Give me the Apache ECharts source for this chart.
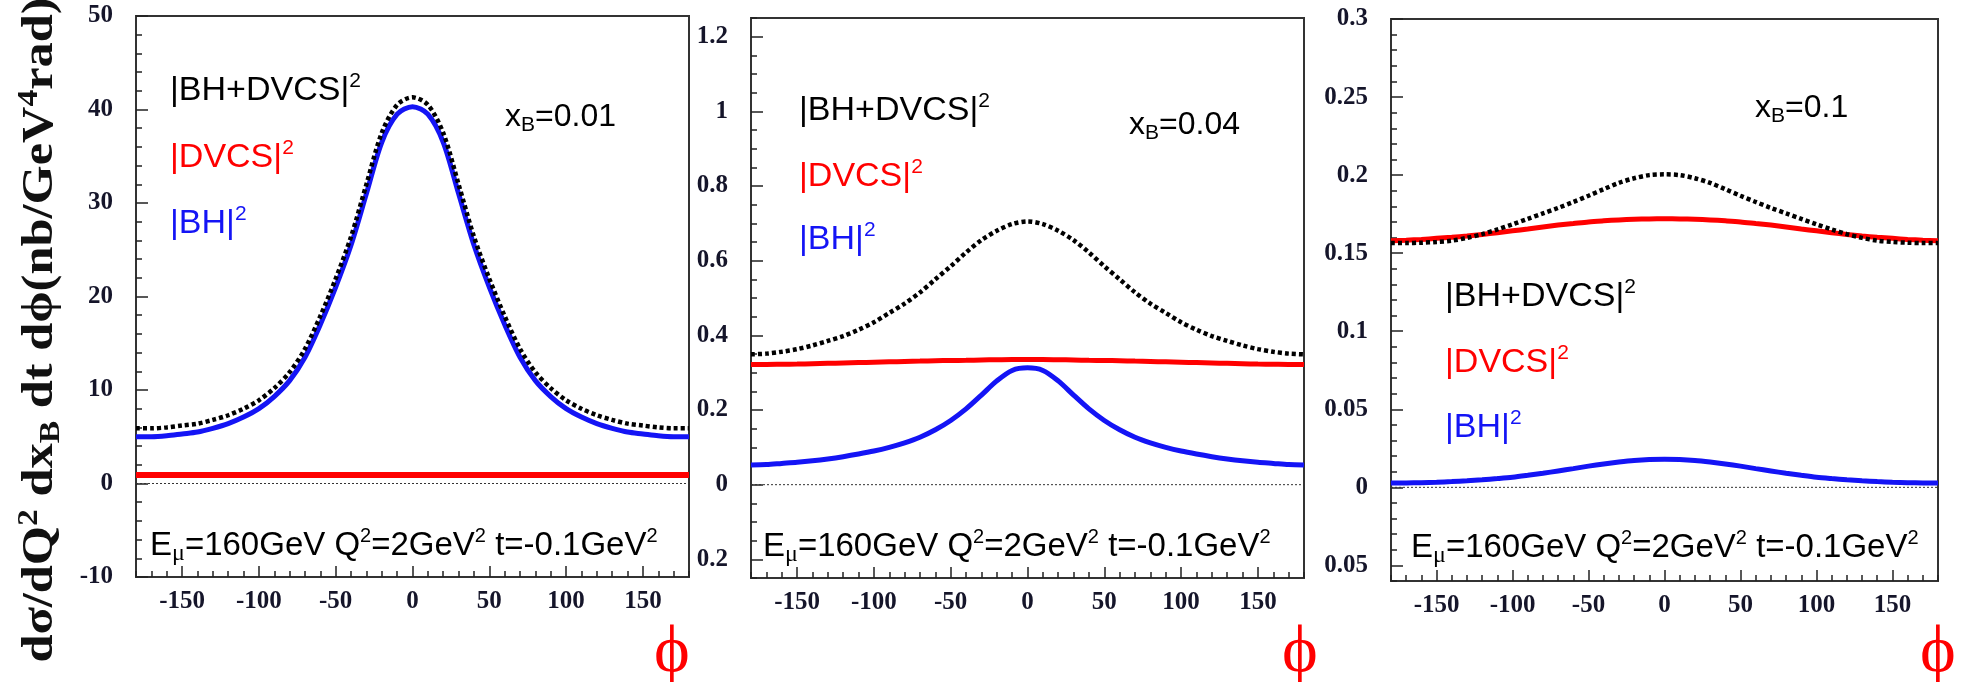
<!DOCTYPE html>
<html><head><meta charset="utf-8">
<script src="https://cdn.jsdelivr.net/npm/echarts@6/dist/echarts.min.js"></script>
<style>html,body{margin:0;padding:0;background:#fff}#c{width:1967px;height:682px}</style>
</head><body><div id="c"></div>
<script>
// ---------- data ----------
const phi = [-180,-170,-160,-150,-140,-130,-120,-110,-100,-90,-80,-70,-60,-50,-40,-30,-20,-10,0,10,20,30,40,50,60,70,80,90,100,110,120,130,140,150,160,170,180];

// panel 1: xB = 0.01
const p1_sum  = [5.9,5.9,6.0,6.2,6.4,6.8,7.3,8.0,8.9,10.2,11.9,14.4,17.9,21.9,26.4,32.0,37.5,40.5,41.3,40.5,37.5,32.0,26.4,21.9,17.9,14.4,11.9,10.2,8.9,8.0,7.3,6.8,6.4,6.2,6.0,5.9,5.9];
const p1_dvcs = [0.9,0.9,0.9,0.9,0.9,0.9,0.9,0.9,0.9,0.9,0.9,0.9,0.9,0.9,0.9,0.9,0.9,0.9,0.9,0.9,0.9,0.9,0.9,0.9,0.9,0.9,0.9,0.9,0.9,0.9,0.9,0.9,0.9,0.9,0.9,0.9,0.9];
const p1_bh   = [5.0,5.0,5.1,5.3,5.5,5.9,6.4,7.1,8.0,9.3,11.0,13.5,17.0,21.0,25.5,31.0,36.5,39.5,40.3,39.5,36.5,31.0,25.5,21.0,17.0,13.5,11.0,9.3,8.0,7.1,6.4,5.9,5.5,5.3,5.1,5.0,5.0];

// panel 2: xB = 0.04
const p2_sum  = [0.349,0.351,0.356,0.363,0.373,0.385,0.398,0.415,0.435,0.46,0.485,0.515,0.55,0.585,0.622,0.655,0.68,0.698,0.705,0.698,0.68,0.655,0.622,0.585,0.55,0.515,0.485,0.46,0.435,0.415,0.398,0.385,0.373,0.363,0.356,0.351,0.349];
const p2_dvcs = [0.322,0.322,0.3225,0.323,0.324,0.325,0.326,0.327,0.328,0.329,0.33,0.331,0.332,0.3325,0.333,0.334,0.3345,0.335,0.335,0.335,0.3345,0.334,0.333,0.3325,0.332,0.331,0.33,0.329,0.328,0.327,0.326,0.325,0.324,0.323,0.3225,0.322,0.322];
const p2_bh   = [0.053,0.054,0.057,0.06,0.064,0.069,0.075,0.082,0.09,0.1,0.112,0.127,0.147,0.172,0.203,0.24,0.278,0.306,0.313,0.306,0.278,0.24,0.203,0.172,0.147,0.127,0.112,0.1,0.09,0.082,0.075,0.069,0.064,0.06,0.057,0.054,0.053];

// panel 3: xB = 0.1
const p3_sum  = [0.1565,0.1565,0.1567,0.1572,0.158,0.1598,0.1622,0.1652,0.1685,0.172,0.1755,0.179,0.1828,0.1868,0.191,0.195,0.198,0.2,0.2005,0.2,0.198,0.195,0.191,0.1868,0.1828,0.179,0.1755,0.172,0.1685,0.1652,0.1622,0.1598,0.158,0.1572,0.1567,0.1565,0.1565];
const p3_dvcs = [0.158,0.1583,0.1588,0.1595,0.1602,0.161,0.162,0.1631,0.1643,0.1655,0.1668,0.168,0.169,0.17,0.1707,0.1713,0.1717,0.1719,0.172,0.1719,0.1717,0.1713,0.1707,0.17,0.169,0.168,0.1668,0.1655,0.1643,0.1631,0.162,0.161,0.1602,0.1595,0.1588,0.1583,0.158];
const p3_bh   = [0.0027,0.0028,0.003,0.0033,0.0037,0.0042,0.0048,0.0056,0.0065,0.0077,0.009,0.0105,0.012,0.0136,0.015,0.0162,0.0172,0.0178,0.018,0.0178,0.0172,0.0162,0.015,0.0136,0.012,0.0105,0.009,0.0077,0.0065,0.0056,0.0048,0.0042,0.0037,0.0033,0.003,0.0028,0.0027];

// ticks and labels
const xTicks = [-150,-100,-50,0,50,100,150];
const xLabels = ['-150','-100','-50','0','50','100','150'];
const p1_yTicks = [-10,0,10,20,30,40,50];
const p1_yLabels = ['-10','0','10','20','30','40','50'];
const p2_yTicks = [-0.2,0,0.2,0.4,0.6,0.8,1,1.2];
const p2_yLabels = ['0.2','0','0.2','0.4','0.6','0.8','1','1.2'];
const p3_yTicks = [-0.05,0,0.05,0.1,0.15,0.2,0.25,0.3];
const p3_yLabels = ['0.05','0','0.05','0.1','0.15','0.2','0.25','0.3'];
const yRanges = [[-10,50],[-0.25,1.25],[-0.06,0.3]];
const minorSteps = [2,0.05,0.01];
const xMinorStep = 10;

const legendNames = ['|BH+DVCS|','|DVCS|','|BH|'];
const xbTexts = ['=0.01','=0.04','=0.1'];

// ---------- layout ----------
const grids = [
  {left:136, top:16, width:553, height:561},
  {left:751, top:18, width:553, height:560},
  {left:1391, top:19, width:547, height:562}
];
const legendPos = [[170,[91,158,224]],[799,[111,177,240]],[1445,[297,363,428]]];
const xbPos = [[505,117],[1129,125],[1755,108]];
const ePos = [[150,546],[763,547],[1411,548]];
const phiPos = [[672,654],[1300,654],[1938,654]];

function minorList(min,max,step,majors){
  const out=[]; const n=Math.round((max-min)/step);
  for(let k=0;k<=n;k++){const v=+(min+k*step).toFixed(6); if(!majors.some(m=>Math.abs(m-v)<1e-9)) out.push(v);}
  return out;
}
const xMinor = minorList(-180,180,xMinorStep,xTicks);
const yTicksAll=[p1_yTicks,p2_yTicks,p3_yTicks];
const yLabelsAll=[p1_yLabels,p2_yLabels,p3_yLabels];
const seriesData=[[p1_sum,p1_dvcs,p1_bh],[p2_sum,p2_dvcs,p2_bh],[p3_sum,p3_dvcs,p3_bh]];

const labelFont = {fontFamily:'Liberation Serif', fontWeight:'bold', fontSize:25, color:'#15152a'};
const xAxes=[], yAxes=[], series=[], graphic=[];
const pair = arr => phi.map((p,k)=>[p,arr[k]]);
const fmt = (ticks,labels) => v => { const i=ticks.findIndex(t=>Math.abs(t-v)<1e-9); return i>=0?labels[i]:''; };

for(let i=0;i<3;i++){
  xAxes.push({gridIndex:i,type:'value',min:-180,max:180,position:'bottom',
    axisLine:{show:true,onZero:false,lineStyle:{color:'#333',width:2}},
    axisTick:{show:true,inside:true,length:11,customValues:xTicks,lineStyle:{color:'#222',width:1.5}},
    axisLabel:Object.assign({show:true,margin:12,customValues:xTicks,formatter:fmt(xTicks,xLabels)},labelFont),
    splitLine:{show:false}});
  xAxes.push({gridIndex:i,type:'value',min:-180,max:180,position:'bottom',
    axisLine:{show:false,onZero:false},
    axisTick:{show:true,inside:true,length:6,customValues:xMinor,lineStyle:{color:'#222',width:1.5}},
    axisLabel:{show:false},splitLine:{show:false}});
  const [ymin,ymax]=yRanges[i];
  yAxes.push({gridIndex:i,type:'value',min:ymin,max:ymax,position:'left',
    axisLine:{show:true,onZero:false,lineStyle:{color:'#333',width:2}},
    axisTick:{show:true,inside:true,length:12,customValues:yTicksAll[i],lineStyle:{color:'#222',width:1.5}},
    axisLabel:Object.assign({show:true,margin:23,customValues:yTicksAll[i],formatter:fmt(yTicksAll[i],yLabelsAll[i])},labelFont),
    splitLine:{show:false}});
  yAxes.push({gridIndex:i,type:'value',min:ymin,max:ymax,position:'left',
    axisLine:{show:false,onZero:false},
    axisTick:{show:true,inside:true,length:6,customValues:minorList(ymin,ymax,minorSteps[i],yTicksAll[i]),lineStyle:{color:'#222',width:1.5}},
    axisLabel:{show:false},splitLine:{show:false}});

  const base={type:'line',xAxisIndex:2*i,yAxisIndex:2*i,symbol:'none',smooth:0.3,silent:true,z:3};
  series.push(Object.assign({},base,{name:'zero'+i,smooth:false,data:[[-180,0],[180,0]],lineStyle:{color:'#333',width:1,type:[2,2]},z:2}));
  series.push(Object.assign({},base,{name:'BH'+i,data:pair(seriesData[i][2]),lineStyle:{color:'#1414f5',width:5}}));
  series.push(Object.assign({},base,{name:'DVCS'+i,data:pair(seriesData[i][1]),lineStyle:{color:'#ff0000',width:i===0?6:5}}));
  series.push(Object.assign({},base,{name:'SUM'+i,data:pair(seriesData[i][0]),lineStyle:{color:'#000',width:4.5,type:[4,3],cap:'butt'},z:4}));

  // legend texts
  const colors=['#000','#ff0000','#1414f5'];
  for(let k=0;k<3;k++){
    graphic.push({type:'text',x:legendPos[i][0],y:legendPos[i][1][k],z:10,silent:true,
      style:{text:'{m|'+legendNames[k]+'}{s|2}',align:'left',verticalAlign:'middle',textAlign:'left',textVerticalAlign:'middle',
        rich:{m:{fontSize:34,fontFamily:'Liberation Sans',fill:colors[k],lineHeight:40},
              s:{fontSize:21,fontFamily:'Liberation Sans',fill:colors[k],lineHeight:26,verticalAlign:'top'}}}});
  }
  // xB
  graphic.push({type:'text',x:xbPos[i][0],y:xbPos[i][1],z:10,silent:true,
    style:{text:'{m|x}{b|B}{m|'+xbTexts[i]+'}',align:'left',verticalAlign:'middle',textAlign:'left',textVerticalAlign:'middle',
      rich:{m:{fontSize:32,fontFamily:'Liberation Sans',fill:'#000',lineHeight:38},
            b:{fontSize:21,fontFamily:'Liberation Sans',fill:'#000',lineHeight:19,verticalAlign:'bottom'}}}});
  // beam text
  graphic.push({type:'text',x:ePos[i][0],y:ePos[i][1],z:10,silent:true,
    style:{text:'{m|E}{u|μ}{m|=160GeV Q}{p|2}{m|=2GeV}{p|2}{m| t=-0.1GeV}{p|2}',align:'left',verticalAlign:'middle',textAlign:'left',textVerticalAlign:'middle',
      rich:{m:{fontSize:33,fontFamily:'Liberation Sans',fill:'#000',lineHeight:40},
            u:{fontSize:24,fontFamily:'Liberation Serif',fill:'#000',lineHeight:22,verticalAlign:'bottom'},
            p:{fontSize:20,fontFamily:'Liberation Sans',fill:'#000',lineHeight:26,verticalAlign:'top'}}}});
  // phi symbol
  graphic.push({type:'text',x:phiPos[i][0],y:phiPos[i][1],z:10,silent:true,
    style:{text:'ϕ',fontSize:68,fontFamily:'Liberation Serif',fill:'#ff0000',align:'center',verticalAlign:'middle',textAlign:'center',textVerticalAlign:'middle'}});
}

// y axis title
graphic.push({type:'text',x:40,y:330,rotation:Math.PI/2,scaleX:1.12,z:10,silent:true,
  style:{text:'{a|dσ/dQ}{p|2}{a| dx}{b|B}{a| dt dϕ(nb/GeV}{p|4}{a|rad)}',align:'center',verticalAlign:'middle',textAlign:'center',textVerticalAlign:'middle',
    rich:{a:{fontSize:45,fontFamily:'Liberation Serif',fontWeight:'bold',fill:'#111',lineHeight:52},
          p:{fontSize:30,fontFamily:'Liberation Serif',fontWeight:'bold',fill:'#111',lineHeight:30,verticalAlign:'top'},
          b:{fontSize:30,fontFamily:'Liberation Serif',fontWeight:'bold',fill:'#111',lineHeight:30,verticalAlign:'bottom'}}}});

const chart = echarts.init(document.getElementById('c'),null,{renderer:'canvas'});
chart.setOption({
  animation:false,
  backgroundColor:'#fff',
  grid:grids.map(g=>Object.assign({show:true,borderColor:'#333',borderWidth:2,backgroundColor:'transparent'},g)),
  xAxis:xAxes, yAxis:yAxes, series:series, graphic:graphic
});
</script></body></html>
